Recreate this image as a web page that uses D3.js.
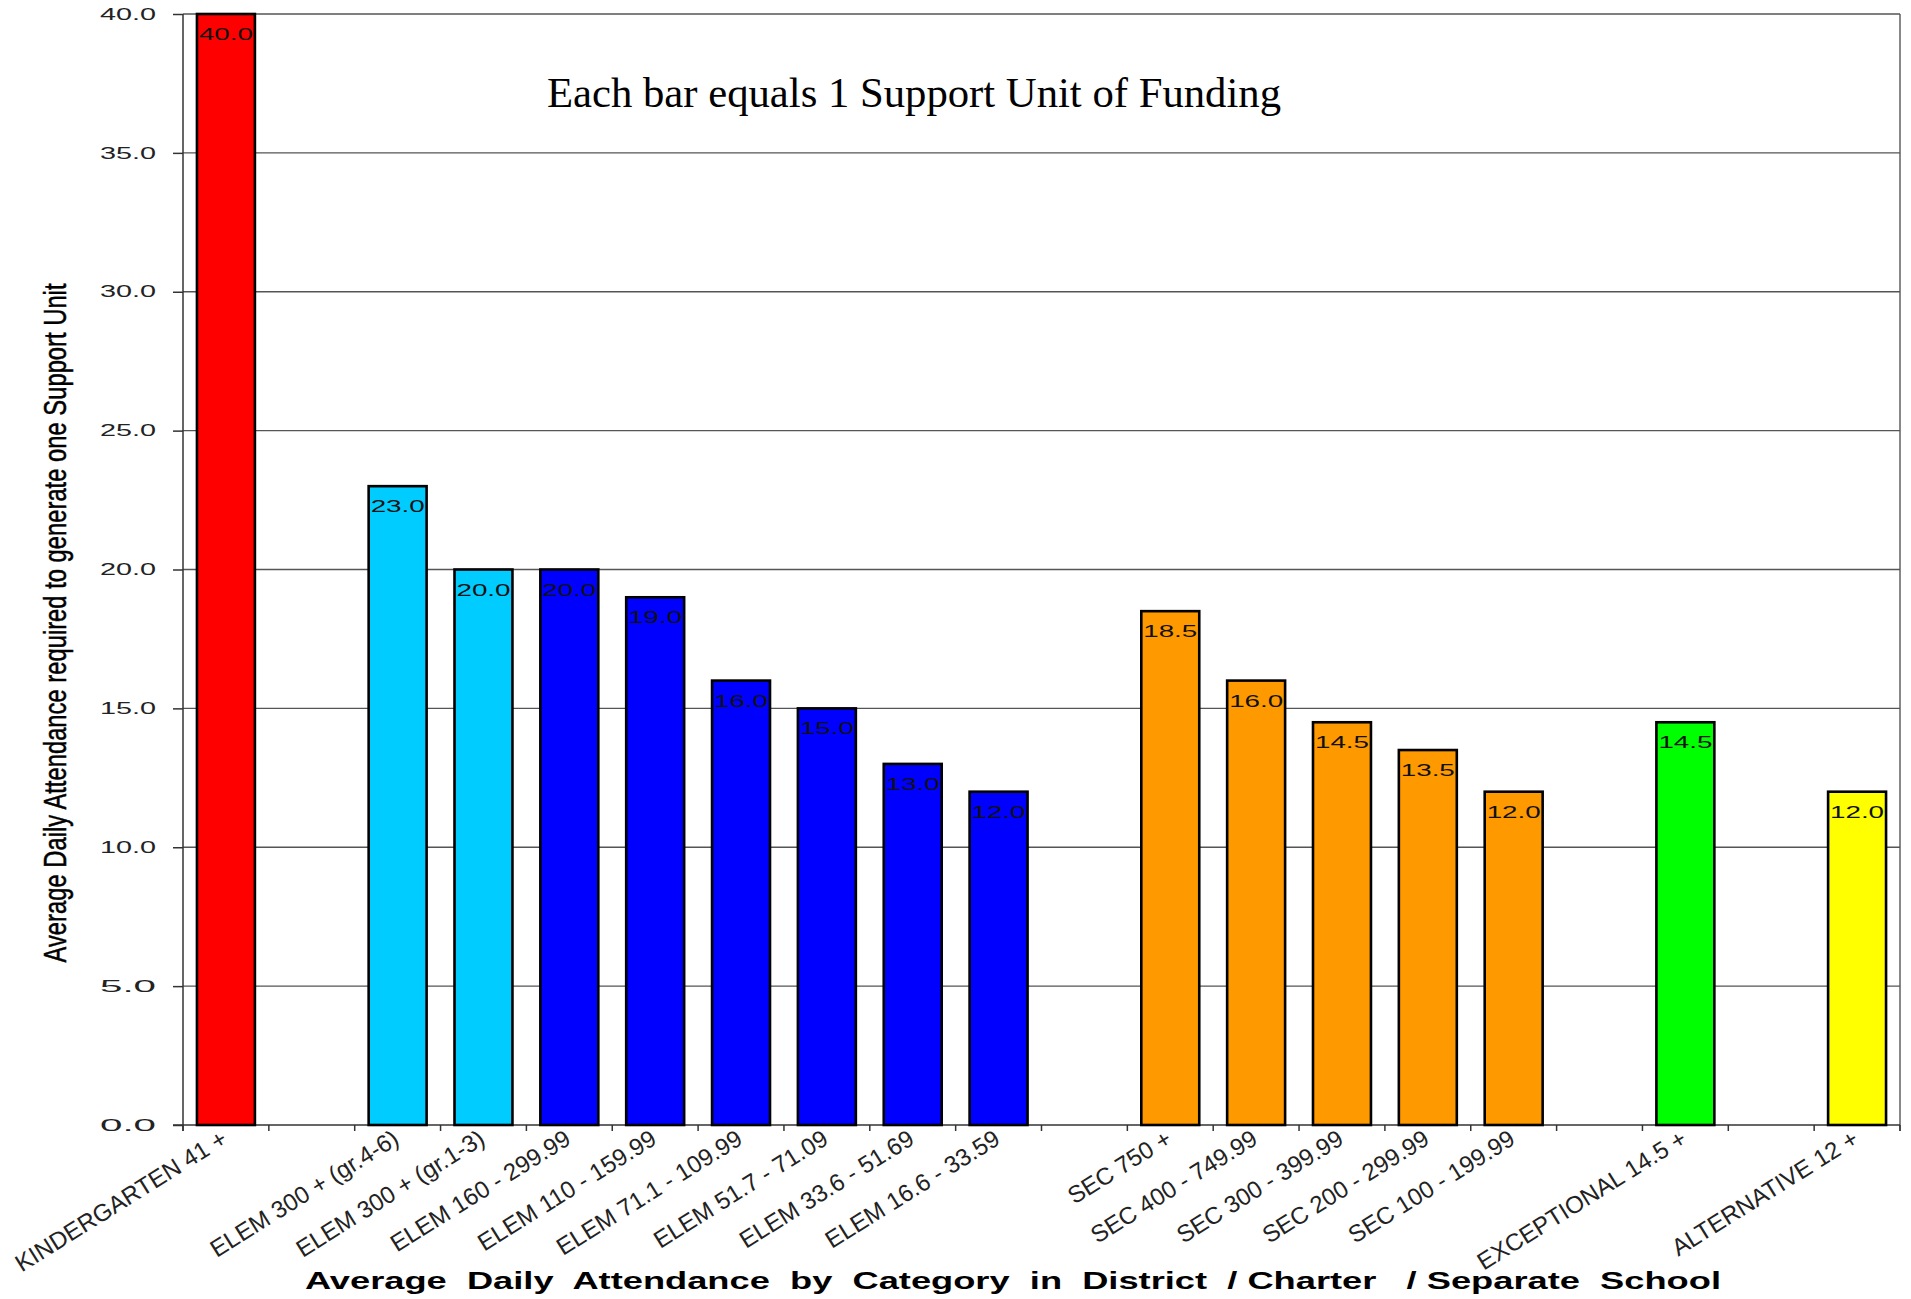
<!DOCTYPE html>
<html>
<head>
<meta charset="utf-8">
<script src="https://cdn.jsdelivr.net/npm/d3@7"></script>
<style>
  html, body { margin: 0; padding: 0; background: #fff; }
  svg { display: block; }
</style>
</head>
<body>
<svg id="chart" width="1911" height="1299"></svg>
<script>
// Categories in display order; empty strings are spacer slots between groups
const categories = [
  "KINDERGARTEN 41 +", "",
  "ELEM 300 + (gr.4-6)", "ELEM 300 + (gr.1-3)", "ELEM 160 - 299.99", "ELEM 110 - 159.99",
  "ELEM 71.1 - 109.99", "ELEM 51.7 - 71.09", "ELEM 33.6 - 51.69", "ELEM 16.6 - 33.59", "",
  "SEC 750 +", "SEC 400 - 749.99", "SEC 300 - 399.99", "SEC 200 - 299.99", "SEC 100 - 199.99", "",
  "EXCEPTIONAL 14.5 +", "",
  "ALTERNATIVE 12 +"
];
// Average daily attendance needed per support unit (null = spacer)
const values = [
  40.0, null,
  23.0, 20.0, 20.0, 19.0, 16.0, 15.0, 13.0, 12.0, null,
  18.5, 16.0, 14.5, 13.5, 12.0, null,
  14.5, null,
  12.0
];
const barColors = [
  "#FF0000", null,
  "#00CCFF", "#00CCFF", "#0000FF", "#0000FF", "#0000FF", "#0000FF", "#0000FF", "#0000FF", null,
  "#FF9900", "#FF9900", "#FF9900", "#FF9900", "#FF9900", null,
  "#00FF00", null,
  "#FFFF00"
];
const yTicks = [0, 5, 10, 15, 20, 25, 30, 35, 40];

const chartTitle = "Each bar equals 1 Support Unit of Funding";
const xTitle = "Average  Daily  Attendance  by  Category  in  District  / Charter   / Separate  School";
const yTitle = "Average Daily Attendance required to generate one Support Unit";

const sans = "Arial, 'Liberation Sans', sans-serif";
const serif = "'Liberation Serif', 'Times New Roman', serif";

const svg = d3.select("#chart").style("font-family", sans);
const plot = { left: 183, right: 1900, top: 14, bottom: 1125 };

const x = d3.scaleBand()
  .domain(d3.range(categories.length))
  .range([plot.left, plot.right])
  .paddingInner(0.325)
  .paddingOuter(0.1625);

const y = d3.scaleLinear().domain([0, 40]).range([plot.bottom, plot.top]);

// Horizontal gridlines
svg.append("g")
  .selectAll("line")
  .data(yTicks.filter(d => d > 0))
  .join("line")
  .attr("x1", plot.left).attr("x2", plot.right)
  .attr("y1", d => y(d)).attr("y2", d => y(d))
  .attr("stroke", "#555").attr("stroke-width", 1.4);

// Right border of the plot area
svg.append("line")
  .attr("x1", plot.right).attr("x2", plot.right)
  .attr("y1", plot.top).attr("y2", plot.bottom + 6)
  .attr("stroke", "#555").attr("stroke-width", 1.4);

// Y axis
const yAxis = svg.append("g")
  .attr("transform", `translate(${plot.left},0)`)
  .call(d3.axisLeft(y).tickValues(yTicks).tickFormat(d3.format(".1f")).tickSize(10).tickPadding(17));
yAxis.select(".domain").attr("stroke", "#333").attr("stroke-width", 1.5)
  .attr("d", `M0,${plot.top}V${plot.bottom + 6}`);
yAxis.selectAll(".tick line").attr("stroke", "#333").attr("stroke-width", 1.5);
yAxis.selectAll(".tick text")
  .style("font-family", sans)
  .attr("font-size", 16)
  .attr("fill", "#222")
  .attr("textLength", 56)
  .attr("lengthAdjust", "spacingAndGlyphs");

// X axis baseline and slot-boundary ticks
const step = x.step();
const slotEdge = i => x(i) - (step - x.bandwidth()) / 2;
const boundaries = d3.range(categories.length + 1);
svg.append("line")
  .attr("x1", plot.left - 10).attr("x2", plot.right)
  .attr("y1", plot.bottom).attr("y2", plot.bottom)
  .attr("stroke", "#333").attr("stroke-width", 1.5);
svg.append("g")
  .selectAll("line")
  .data(boundaries)
  .join("line")
  .attr("x1", i => i < categories.length ? slotEdge(i) : plot.right)
  .attr("x2", i => i < categories.length ? slotEdge(i) : plot.right)
  .attr("y1", plot.bottom).attr("y2", plot.bottom + 6)
  .attr("stroke", "#333").attr("stroke-width", 1.5);

// Bars
const bars = d3.range(categories.length).filter(i => values[i] !== null);
svg.append("g")
  .selectAll("rect")
  .data(bars)
  .join("rect")
  .attr("x", i => x(i))
  .attr("y", i => y(values[i]))
  .attr("width", x.bandwidth())
  .attr("height", i => y(0) - y(values[i]))
  .attr("fill", i => barColors[i])
  .attr("stroke", "#000")
  .attr("stroke-width", 2.6);

// Value labels inside the top of each bar
svg.append("g")
  .selectAll("text")
  .data(bars)
  .join("text")
  .attr("x", i => x(i) + x.bandwidth() / 2)
  .attr("y", i => y(values[i]) + 26)
  .attr("text-anchor", "middle")
  .attr("font-size", 16)
  .attr("fill", "#111")
  .attr("textLength", 54)
  .attr("lengthAdjust", "spacingAndGlyphs")
  .text(i => d3.format(".1f")(values[i]));

// Rotated category labels
svg.append("g")
  .selectAll("text")
  .data(d3.range(categories.length).filter(i => categories[i] !== ""))
  .join("text")
  .attr("transform", i => `translate(${x(i) + x.bandwidth() / 2 + 3},${plot.bottom + 18}) rotate(-32)`)
  .attr("text-anchor", "end")
  .attr("font-size", 24)
  .attr("fill", "#222")
  .text(i => categories[i]);

// Chart title
svg.append("text")
  .attr("x", 547).attr("y", 107)
  .style("font-family", serif)
  .attr("font-size", 43)
  .attr("fill", "#000")
  .attr("textLength", 734)
  .attr("lengthAdjust", "spacingAndGlyphs")
  .text(chartTitle);

// X axis title
svg.append("text")
  .attr("x", 305).attr("y", 1289)
  .attr("font-size", 23)
  .attr("font-weight", "bold")
  .attr("fill", "#000")
  .style("white-space", "pre")
  .attr("textLength", 1416)
  .attr("lengthAdjust", "spacingAndGlyphs")
  .text(xTitle);

// Y axis title
svg.append("text")
  .attr("transform", "translate(66,623) rotate(-90)")
  .attr("text-anchor", "middle")
  .attr("font-size", 31)
  .attr("fill", "#000")
  .attr("stroke", "#000")
  .attr("stroke-width", 0.5)
  .attr("textLength", 679)
  .attr("lengthAdjust", "spacingAndGlyphs")
  .text(yTitle);
</script>
</body>
</html>
